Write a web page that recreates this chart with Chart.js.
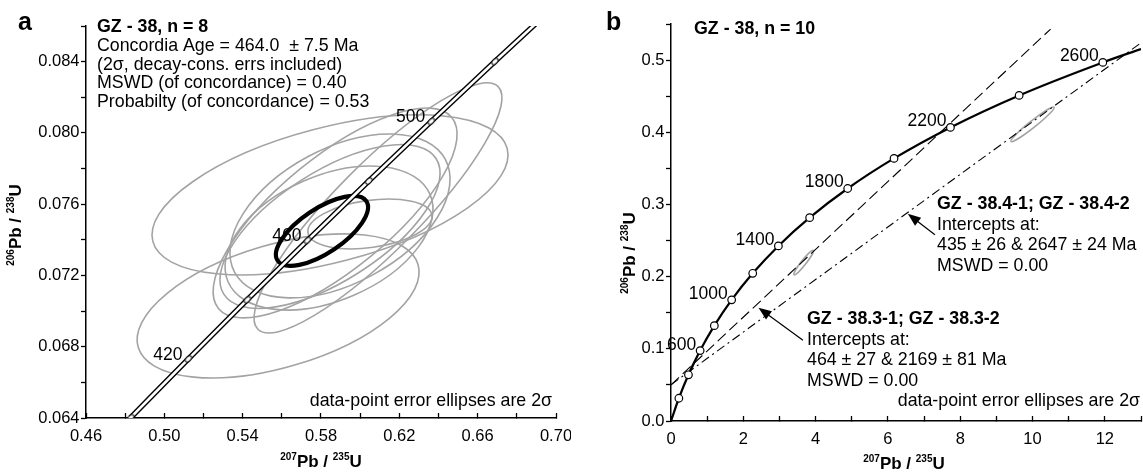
<!DOCTYPE html>
<html>
<head>
<meta charset="utf-8">
<script src="https://cdn.jsdelivr.net/npm/chart.js@4.4.0/dist/chart.umd.min.js"></script>
<style>
  html, body { margin: 0; padding: 0; background: #fff; }
  #wrap { position: relative; width: 1143px; height: 473px; overflow: hidden; }
  #chartA { position: absolute; left: 0; top: 0; }
  #chartB { position: absolute; left: 586px; top: 0; }
</style>
</head>
<body>
<div id="wrap">
  <canvas id="chartA" width="571" height="473"></canvas>
  <canvas id="chartB" width="557" height="473"></canvas>
</div>
<script>
const FONT = '"Liberation Sans", Arial, Helvetica, sans-serif';

// ---------- panel a ----------
// concordia ages (Ma) and their 207Pb/235U, 206Pb/238U ratios
const agesA  = [400, 420, 440, 460, 480, 500, 520, 540];
const concAx = [0.4828, 0.5123, 0.5424, 0.5731, 0.6044, 0.6363, 0.6688, 0.7020];
const concAy = [0.06402, 0.06732, 0.07064, 0.07397, 0.07730, 0.08065, 0.08401, 0.08738];
const labelledA = [420, 460, 500];

// data-point error ellipses (centre, 2s errors, error correlation)
const ellAx   = [0.5846, 0.6091, 0.5581, 0.5872, 0.5846, 0.5841, 0.5897, 0.6050];
const ellAy   = [0.07652, 0.07579, 0.07029, 0.07551, 0.07475, 0.07410, 0.07534, 0.07489];
const ellAsx  = [0.0909, 0.0633, 0.0720, 0.0623, 0.0562, 0.0531, 0.0562, 0.0317];
const ellAsy  = [0.00449, 0.00702, 0.00404, 0.00589, 0.00460, 0.00404, 0.00460, 0.00140];
const ellArho = [0.50, 0.88, 0.47, 0.75, 0.65, 0.40, 0.45, 0.30];

// concordia age ellipse: x, y, sx, sy, rho
const concordiaAge = [0.5805, 0.0745, 0.0235, 0.00196, 0.68];

const ticksAx  = [0.46, 0.48, 0.50, 0.52, 0.54, 0.56, 0.58, 0.60, 0.62, 0.64, 0.66, 0.68, 0.70];
const labelsAx = ['0.46', '', '0.50', '', '0.54', '', '0.58', '', '0.62', '', '0.66', '', '0.70'];
const ticksAy  = [0.064, 0.066, 0.068, 0.070, 0.072, 0.074, 0.076, 0.078, 0.080, 0.082, 0.084, 0.086];
const labelsAy = ['0.064', '', '0.068', '', '0.072', '', '0.076', '', '0.080', '', '0.084', ''];

const statsA = [
  'Concordia Age = 464.0  \u00b1 7.5 Ma',
  '(2\u03c3, decay-cons. errs included)',
  'MSWD (of concordance) = 0.40',
  'Probabilty (of concordance) = 0.53'
];

// ---------- panel b ----------
const agesB  = [0, 200, 400, 600, 800, 1000, 1200, 1400, 1600, 1800, 2000, 2200, 2400, 2600, 2680];
const concBx = [0, 0.2177, 0.4828, 0.8057, 1.1988, 1.6774, 2.2603, 2.9702, 3.8348, 4.8871, 6.1685, 7.7286, 9.6293, 11.944, 13.0];
const concBy = [0, 0.03151, 0.06402, 0.09754, 0.13213, 0.16782, 0.20460, 0.24256, 0.28172, 0.32211, 0.36377, 0.40674, 0.45107, 0.49679, 0.5154];
const labelledB = [600, 1000, 1400, 1800, 2200, 2600];

// discordia lines
const disc383x = [0, 10.5];
const disc383y = [0.05, 0.543];
const disc384x = [0, 13];
const disc384y = [0.0503, 0.5239];

// ellipses in b: cluster (filled), 38.3, 38.4
const ellBx   = [0.575, 3.67, 10.0];
const ellBy   = [0.0745, 0.2195, 0.411];
const ellBsx  = [0.10, 0.27, 0.60];
const ellBsy  = [0.0085, 0.017, 0.024];
const ellBrho = [0.90, 0.95, 0.97];

const ticksBx  = [0, 1, 2, 3, 4, 5, 6, 7, 8, 9, 10, 11, 12, 13];
const labelsBx = ['0', '', '2', '', '4', '', '6', '', '8', '', '10', '', '12', ''];
const ticksBy  = [0, 0.05, 0.1, 0.15, 0.2, 0.25, 0.3, 0.35, 0.4, 0.45, 0.5, 0.55];
const labelsBy = ['0.0', '', '0.1', '', '0.2', '', '0.3', '', '0.4', '', '0.5', ''];

const block383 = ['GZ - 38.3-1; GZ - 38.3-2', 'Intercepts at:', '464 \u00b1 27 & 2169 \u00b1 81 Ma', 'MSWD = 0.00'];
const block384 = ['GZ - 38.4-1; GZ - 38.4-2', 'Intercepts at:', '435 \u00b1 26 & 2647 \u00b1 24 Ma', 'MSWD = 0.00'];
// arrows: [tailX, tailY, tipX, tipY]
const arrow383 = [3.65, 0.112, 2.42, 0.157];
const arrow384 = [7.30, 0.258, 6.55, 0.287];

// ---------- helpers ----------
function ellipsePath(chart, cx, cy, sx, sy, rho) {
  const xs = chart.scales.x, ys = chart.scales.y;
  const px = xs.getPixelForValue(cx), py = ys.getPixelForValue(cy);
  const kx = xs.getPixelForValue(cx + sx) - px;
  const ky = py - ys.getPixelForValue(cy + sy);
  const a = kx * kx, c = ky * ky, b = -rho * kx * ky;
  const m = (a + c) / 2, d = Math.sqrt(((a - c) / 2) ** 2 + b * b);
  const r1 = Math.sqrt(m + d), r2 = Math.sqrt(Math.max(m - d, 0.05));
  const th = 0.5 * Math.atan2(2 * b, a - c);
  const ctx = chart.ctx;
  ctx.beginPath();
  ctx.ellipse(px, py, r1, r2, th, 0, Math.PI * 2);
}

function isoTitle(ctx, x, y, rot, top, bottom) {
  // draws e.g. 207Pb / 235U with small raised mass numbers, centred on x,y
  const parts = [[top, true], ['Pb / ', false], [bottom, true], ['U', false]];
  const big = 'bold 17px ' + FONT, small = 'bold 10px ' + FONT;
  let w = 0;
  parts.forEach(p => { ctx.font = p[1] ? small : big; w += ctx.measureText(p[0]).width; });
  ctx.save();
  ctx.translate(x, y);
  ctx.rotate(rot);
  ctx.fillStyle = '#000';
  ctx.textAlign = 'left';
  ctx.textBaseline = 'alphabetic';
  let cx = -w / 2;
  parts.forEach(p => {
    ctx.font = p[1] ? small : big;
    ctx.fillText(p[0], cx, p[1] ? -1 : 6);
    cx += ctx.measureText(p[0]).width;
  });
  ctx.restore();
}

function textLines(ctx, lines, x, y0, step, boldFirst) {
  ctx.fillStyle = '#000';
  ctx.textAlign = 'left';
  ctx.textBaseline = 'alphabetic';
  lines.forEach((s, i) => {
    ctx.font = (i === 0 && boldFirst ? 'bold ' : '') + '17.8px ' + FONT;
    ctx.fillText(s, x, y0 + i * step);
  });
}

function arrow(chart, a) {
  const xs = chart.scales.x, ys = chart.scales.y, ctx = chart.ctx;
  const x1 = xs.getPixelForValue(a[0]), y1 = ys.getPixelForValue(a[1]);
  const x2 = xs.getPixelForValue(a[2]), y2 = ys.getPixelForValue(a[3]);
  const ang = Math.atan2(y2 - y1, x2 - x1);
  ctx.save();
  ctx.strokeStyle = '#000';
  ctx.fillStyle = '#000';
  ctx.lineWidth = 1.2;
  ctx.beginPath();
  ctx.moveTo(x1, y1);
  ctx.lineTo(x2 - 8 * Math.cos(ang), y2 - 8 * Math.sin(ang));
  ctx.stroke();
  ctx.beginPath();
  ctx.moveTo(x2, y2);
  ctx.lineTo(x2 - 13 * Math.cos(ang) + 5 * Math.sin(ang), y2 - 13 * Math.sin(ang) - 5 * Math.cos(ang));
  ctx.lineTo(x2 - 13 * Math.cos(ang) - 5 * Math.sin(ang), y2 - 13 * Math.sin(ang) + 5 * Math.cos(ang));
  ctx.closePath();
  ctx.fill();
  ctx.restore();
}

function ageLabels(chart, ages, xsArr, ysArr, show, dx, dy) {
  const xs = chart.scales.x, ys = chart.scales.y, ctx = chart.ctx;
  ctx.save();
  ctx.font = '17.5px ' + FONT;
  ctx.fillStyle = '#000';
  ctx.textAlign = 'right';
  ctx.textBaseline = 'alphabetic';
  ages.forEach((t, i) => {
    if (!show.includes(t)) return;
    ctx.fillText(String(t), xs.getPixelForValue(xsArr[i]) + dx, ys.getPixelForValue(ysArr[i]) + dy);
  });
  ctx.restore();
}

function makeMarker() {
  const c = document.createElement('canvas');
  c.width = 12; c.height = 12;
  const g = c.getContext('2d');
  g.translate(6, 6);
  g.rotate(-Math.PI / 4);
  g.beginPath();
  g.ellipse(0, 0, 3.8, 2.2, 0, 0, Math.PI * 2);
  g.fillStyle = '#fff';
  g.fill();
  g.lineWidth = 1;
  g.strokeStyle = '#000';
  g.stroke();
  return c;
}

function axes(minX, maxX, tX, lX, minY, maxY, tY, lY, yWidth, xHeight) {
  const tickFont = { family: FONT, size: 16.5 };
  return {
    x: {
      type: 'linear', min: minX, max: maxX,
      afterBuildTicks: s => { s.ticks = tX.map(v => ({ value: v })); },
      afterFit: s => { s.height = xHeight; s.paddingLeft = 0; s.paddingRight = 0; },
      border: { display: true, color: '#000', width: 1.5 },
      grid: { display: true, drawOnChartArea: false, drawTicks: true, tickLength: -5, tickWidth: 1.3, tickColor: '#000' },
      ticks: { autoSkip: false, maxRotation: 0, padding: 14, color: '#000', font: tickFont,
               callback: (v, i) => lX[i] }
    },
    y: {
      type: 'linear', min: minY, max: maxY,
      afterBuildTicks: s => { s.ticks = tY.map(v => ({ value: v })); },
      afterFit: s => { s.width = yWidth; s.paddingTop = 0; s.paddingBottom = 0; },
      border: { display: true, color: '#000', width: 1.5 },
      grid: { display: true, drawOnChartArea: false, drawTicks: true, tickLength: 5, tickWidth: 1.3, tickColor: '#000' },
      ticks: { autoSkip: false, padding: 1.5, color: '#000', font: tickFont,
               callback: (v, i) => lY[i] }
    }
  };
}

// ---------- chart a ----------
const concA = agesA.map((t, i) => ({ x: concAx[i], y: concAy[i] }));
const markerA = makeMarker();

const panelAPlugin = {
  id: 'panelA',
  beforeDatasetsDraw(chart) {
    const ctx = chart.ctx, ar = chart.chartArea;
    ctx.save();
    ctx.beginPath();
    ctx.rect(ar.left, ar.top, ar.right - ar.left, ar.bottom - ar.top);
    ctx.clip();
    ctx.strokeStyle = '#a3a3a3';
    ctx.lineWidth = 1.6;
    ellAx.forEach((v, i) => {
      ellipsePath(chart, ellAx[i], ellAy[i], ellAsx[i], ellAsy[i], ellArho[i]);
      ctx.stroke();
    });
    ctx.strokeStyle = '#000';
    ctx.lineWidth = 4.2;
    ellipsePath(chart, ...concordiaAge);
    ctx.stroke();
    ctx.restore();
  },
  afterDatasetsDraw(chart) {
    ageLabels(chart, agesA, concAx, concAy, labelledA, -6, 1);
  },
  afterDraw(chart) {
    const ctx = chart.ctx;
    ctx.save();
    ctx.fillStyle = '#000';
    ctx.font = 'bold 25px ' + FONT;
    ctx.textAlign = 'left';
    ctx.fillText('a', 18, 30);
    textLines(ctx, ['GZ - 38, n = 8'].concat(statsA), 97, 32, 18.75, true);
    ctx.font = '17.8px ' + FONT;
    ctx.textAlign = 'right';
    ctx.fillText('data-point error ellipses are 2\u03c3', 552, 406);
    isoTitle(ctx, 321, 461, 0, '207', '235');
    isoTitle(ctx, 15, 225, -Math.PI / 2, '206', '238');
    ctx.restore();
  }
};

new Chart(document.getElementById('chartA'), {
  type: 'line',
  data: {
    datasets: [
      { data: concA, borderColor: '#fff', borderWidth: 2.6, pointStyle: markerA, pointRadius: 4,
        cubicInterpolationMode: 'monotone', order: 0 },
      { data: concA, borderColor: '#000', borderWidth: 5.4, pointRadius: 0,
        cubicInterpolationMode: 'monotone', order: 1 }
    ]
  },
  options: {
    responsive: false,
    animation: false,
    events: [],
    layout: { padding: { left: 0, top: 26, right: 15, bottom: 0 } },
    plugins: { legend: { display: false }, tooltip: { enabled: false } },
    scales: axes(0.46, 0.70, ticksAx, labelsAx, 0.064, 0.086, ticksAy, labelsAy, 86, 55)
  },
  plugins: [panelAPlugin]
});

// ---------- chart b ----------
const concB = agesB.map((t, i) => ({ x: concBx[i], y: concBy[i] }));
const radiiB = agesB.map(t => (t === 0 || t === 2680) ? 0 : 3.8);

const panelBPlugin = {
  id: 'panelB',
  beforeDatasetsDraw(chart) {
    const ctx = chart.ctx;
    ctx.save();
    ellBx.forEach((v, i) => {
      ellipsePath(chart, ellBx[i], ellBy[i], ellBsx[i], ellBsy[i], ellBrho[i]);
      if (i === 0) {
        ctx.fillStyle = '#9a9a9a';
        ctx.fill();
      } else {
        ctx.strokeStyle = '#a3a3a3';
        ctx.lineWidth = 1.6;
        ctx.stroke();
      }
    });
    ctx.restore();
  },
  afterDatasetsDraw(chart) {
    ageLabels(chart, agesB, concBx, concBy, labelledB, -4, -1);
  },
  afterDraw(chart) {
    const ctx = chart.ctx;
    ctx.save();
    ctx.fillStyle = '#000';
    ctx.font = 'bold 25px ' + FONT;
    ctx.textAlign = 'left';
    ctx.fillText('b', 20, 30);
    textLines(ctx, ['GZ - 38, n = 10'], 108, 34, 20, true);
    textLines(ctx, block384, 351, 209, 20.5, true);
    textLines(ctx, block383, 221, 324, 20.5, true);
    ctx.font = '17.8px ' + FONT;
    ctx.textAlign = 'right';
    ctx.fillText('data-point error ellipses are 2\u03c3', 554, 406);
    arrow(chart, arrow384);
    arrow(chart, arrow383);
    isoTitle(ctx, 318, 463, 0, '207', '235');
    isoTitle(ctx, 43, 253, -Math.PI / 2, '206', '238');
    ctx.restore();
  }
};

new Chart(document.getElementById('chartB'), {
  type: 'line',
  data: {
    datasets: [
      { data: concB, borderColor: '#000', borderWidth: 2.2, pointRadius: radiiB,
        pointBackgroundColor: '#fff', pointBorderColor: '#000', pointBorderWidth: 1.2,
        cubicInterpolationMode: 'monotone', order: 0 },
      { data: disc383x.map((v, i) => ({ x: v, y: disc383y[i] })), borderColor: '#000', borderWidth: 1.1,
        borderDash: [11, 5], pointRadius: 0, order: 1 },
      { data: disc384x.map((v, i) => ({ x: v, y: disc384y[i] })), borderColor: '#000', borderWidth: 1.1,
        borderDash: [9, 4, 2, 4], pointRadius: 0, order: 2 }
    ]
  },
  options: {
    responsive: false,
    animation: false,
    events: [],
    layout: { padding: { left: 0, top: 24, right: 2, bottom: 0 } },
    plugins: { legend: { display: false }, tooltip: { enabled: false } },
    scales: axes(0, 13, ticksBx, labelsBx, 0, 0.55, ticksBy, labelsBy, 85, 52)
  },
  plugins: [panelBPlugin]
});
</script>
</body>
</html>
